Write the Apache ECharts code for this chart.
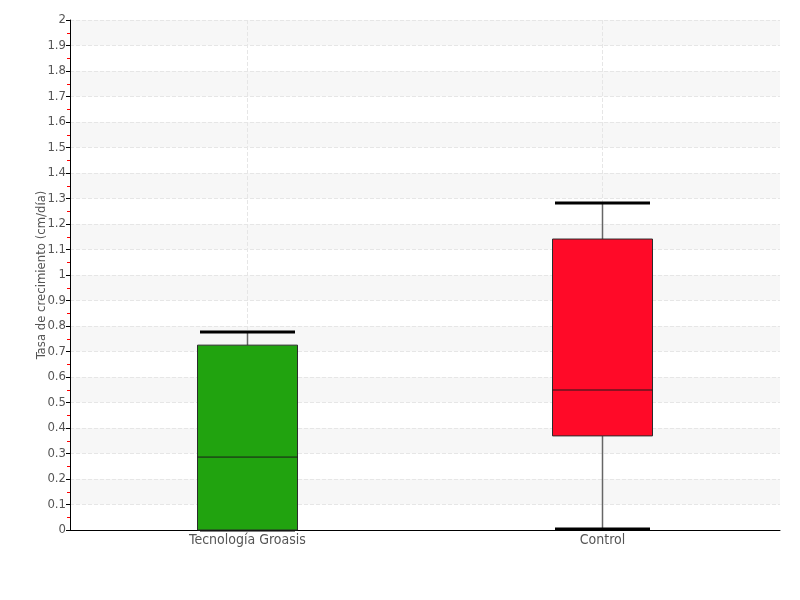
<!DOCTYPE html>
<html><head><meta charset="utf-8">
<script src="https://cdn.jsdelivr.net/npm/echarts@6/dist/echarts.min.js"></script>
<style>html,body{margin:0;padding:0;background:#fff}#c{width:800px;height:600px}</style>
</head><body><div id="c"></div>
<script>
const categories = ['Tecnología Groasis', 'Control'];
// [min, Q1, median, Q3, max]
const boxValues = [
  [0, 0, 0.286, 0.725, 0.776],
  [0.004, 0.369, 0.549, 1.141, 1.282]
];
const boxColors = ['#21a30f', '#ff0a28'];
const yTicks = { min: 0, max: 2, interval: 0.1 };
const yAxisName = 'Tasa de crecimiento (cm/día)';

const FONT = "'Liberation Sans Narrow', 'DejaVu Sans Condensed', sans-serif";
const chart = echarts.init(document.getElementById('c'));
const data = boxValues.map((v, i) => [i].concat(v));

chart.setOption({
  animation: false,
  grid: { left: 70, right: 20, top: 20, bottom: 70 },
  xAxis: {
    type: 'category', data: categories,
    axisLine: { lineStyle: { color: '#000', width: 1 } },
    axisTick: { show: false },
    axisLabel: { color: '#555', fontSize: 14, fontFamily: FONT, margin: 3 },
    splitLine: { show: true, alignWithLabel: true, lineStyle: { color: '#e6e6e6', type: 'dashed' } }
  },
  yAxis: {
    type: 'value', min: yTicks.min, max: yTicks.max, interval: yTicks.interval,
    name: yAxisName, nameLocation: 'middle', nameGap: 22, nameMoveOverlap: false,
    nameTextStyle: { color: '#555', fontSize: 13, fontFamily: FONT },
    axisLine: { show: true, lineStyle: { color: '#000', width: 1 } },
    axisTick: { show: true, length: 4, lineStyle: { color: '#000' } },
    minorTick: { show: true, splitNumber: 2, length: 3, lineStyle: { color: '#ff0000', width: 1 } },
    axisLabel: { color: '#555', fontSize: 13, fontFamily: FONT, margin: 4,
      formatter: v => String(Math.round(v * 10) / 10) },
    splitLine: { show: true, lineStyle: { color: '#e6e6e6', type: 'dashed' } },
    splitArea: { show: true, areaStyle: { color: ['rgba(255,255,255,0)', '#f7f7f7'] } }
  },
  series: [{
    type: 'custom',
    data: data,
    encode: { x: 0, y: [1, 2, 3, 4, 5] },
    renderItem: function (params, api) {
      const i = api.value(0);
      const pMin = api.coord([i, api.value(1)]);
      const pQ1 = api.coord([i, api.value(2)]);
      const pMed = api.coord([i, api.value(3)]);
      const pQ3 = api.coord([i, api.value(4)]);
      const pMax = api.coord([i, api.value(5)]);
      const x = pMed[0];
      const bw = 100, cw = 95;
      return {
        type: 'group',
        children: [
          { type: 'line', shape: { x1: x, y1: pQ3[1], x2: x, y2: pMax[1] }, style: { stroke: '#666', lineWidth: 1.5 } },
          { type: 'line', shape: { x1: x, y1: pQ1[1], x2: x, y2: pMin[1] }, style: { stroke: '#666', lineWidth: 1.5 } },
          { type: 'line', shape: { x1: x - cw / 2, y1: pMax[1], x2: x + cw / 2, y2: pMax[1] }, style: { stroke: '#000', lineWidth: 3 } },
          { type: 'line', shape: { x1: x - cw / 2, y1: pMin[1], x2: x + cw / 2, y2: pMin[1] }, style: { stroke: '#000', lineWidth: 3 } },
          { type: 'rect', shape: { x: x - bw / 2, y: pQ3[1], width: bw, height: pQ1[1] - pQ3[1] },
            style: { fill: boxColors[i], stroke: '#2b2b2b', lineWidth: 1 } },
          { type: 'line', shape: { x1: x - bw / 2, y1: pMed[1], x2: x + bw / 2, y2: pMed[1] }, style: { stroke: '#1a1a1a', lineWidth: 1 } }
        ]
      };
    }
  }]
});
</script></body></html>
